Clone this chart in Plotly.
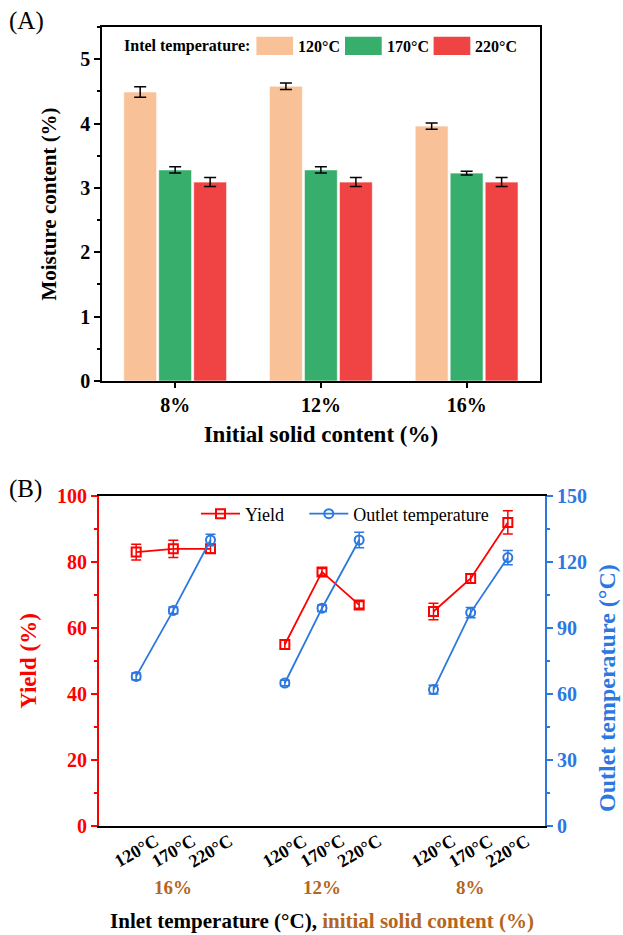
import plotly.graph_objects as go

W, H = 623, 935
FONT = "Liberation Serif, Times New Roman, serif"

# ---------------- Panel A data ----------------
solid_content = ["8%", "12%", "16%"]
inlet_temps = ["120°C", "170°C", "220°C"]
moisture_120 = [4.49, 4.58, 3.96]
moisture_120_err = [0.08, 0.05, 0.05]
moisture_170 = [3.28, 3.28, 3.23]
moisture_170_err = [0.05, 0.05, 0.03]
moisture_220 = [3.09, 3.09, 3.09]
moisture_220_err = [0.07, 0.07, 0.07]
bar_colors = ["#F8C197", "#38AE6D", "#F04343"]

# ---------------- Panel B data ----------------
group_solid = ["16%", "12%", "8%"]
yield_vals = [83.0, 84.0, 84.0, 55.0, 77.0, 67.0, 65.0, 75.0, 92.0]
yield_err = [2.4, 2.6, 1.3, 1.3, 1.0, 1.0, 2.5, 1.4, 3.5]
outlet_vals = [68, 98, 130, 65, 99, 130, 62, 97, 122]
outlet_err = [1.5, 1.5, 2.6, 1.2, 1.5, 3.5, 2.0, 2.3, 3.2]

RED = "#FF0000"
BLUE = "#2B78E0"
BROWN = "#B5651D"

fig = go.Figure()

moist = [moisture_120, moisture_170, moisture_220]
moist_err = [moisture_120_err, moisture_170_err, moisture_220_err]
for i, t in enumerate(inlet_temps):
    fig.add_trace(go.Bar(
        x=solid_content, y=moist[i], name=t,
        marker=dict(color=bar_colors[i], line=dict(color="rgba(255,255,255,0.6)", width=1)),
        error_y=dict(type="data", array=moist_err[i], color="black", thickness=1.5, width=6),
        xaxis="x", yaxis="y", showlegend=False,
    ))

# positions for panel B: groups separated by one empty slot
n_t = len(inlet_temps)
for g, sc in enumerate(group_solid):
    pos = [g * (n_t + 1) + t for t in range(n_t)]
    sl = slice(g * n_t, (g + 1) * n_t)
    fig.add_trace(go.Scatter(
        x=pos, y=yield_vals[sl], mode="lines+markers", name="Yield",
        line=dict(color=RED, width=1.8),
        marker=dict(symbol="square-open", size=9, color=RED, line=dict(width=2, color=RED)),
        error_y=dict(type="data", array=yield_err[sl], color=RED, thickness=1.5, width=5),
        xaxis="x2", yaxis="y2", legendgroup="yield", showlegend=(g == 0), legend="legend",
    ))
for g, sc in enumerate(group_solid):
    pos = [g * (n_t + 1) + t for t in range(n_t)]
    sl = slice(g * n_t, (g + 1) * n_t)
    fig.add_trace(go.Scatter(
        x=pos, y=outlet_vals[sl], mode="lines+markers", name="Outlet temperature",
        line=dict(color=BLUE, width=1.8),
        marker=dict(symbol="circle-open", size=9, color=BLUE, line=dict(width=2, color=BLUE)),
        error_y=dict(type="data", array=outlet_err[sl], color=BLUE, thickness=1.5, width=5),
        xaxis="x2", yaxis="y3", legendgroup="outlet", showlegend=(g == 0), legend="legend2",
    ))

annotations = []
shapes = []

# Panel A custom legend
leg_y = 1 - 46 / H
annotations.append(dict(text="<b>Intel temperature:</b>", xref="paper", yref="paper",
                        x=121.5 / W, y=leg_y, xanchor="left", yanchor="middle",
                        showarrow=False, font=dict(size=16, family=FONT, color="black")))
for i, t in enumerate(inlet_temps):
    x0 = 256.4 + 88.6 * i
    shapes.append(dict(type="rect", xref="paper", yref="paper",
                       x0=x0 / W, x1=(x0 + 36.7) / W, y0=1 - 55 / H, y1=1 - 36.7 / H,
                       fillcolor=bar_colors[i], line=dict(width=0)))
    annotations.append(dict(text="<b>%s</b>" % t, xref="paper", yref="paper",
                            x=(x0 + 39.5) / W, y=leg_y, xanchor="left", yanchor="middle",
                            showarrow=False, font=dict(size=16, family=FONT, color="black")))

# Panel B rotated tick labels and group labels
for g, sc in enumerate(group_solid):
    for t, tl in enumerate(inlet_temps):
        annotations.append(dict(text="<b>%s</b>" % tl, xref="x2", yref="paper",
                                x=g * (n_t + 1) + t, y=1 - 851 / H, textangle=-30,
                                xanchor="center", yanchor="middle",
                                showarrow=False, font=dict(size=18, family=FONT, color="black")))
    annotations.append(dict(text="<b>%s</b>" % sc, xref="x2", yref="paper",
                            x=g * (n_t + 1) + (n_t - 1) / 2, y=1 - 887 / H,
                            xanchor="center", yanchor="middle",
                            showarrow=False, font=dict(size=19, family=FONT, color=BROWN)))

# right axis title of panel B (placed lower than axis centre, as in the original)
annotations.append(dict(text="<b>Outlet temperature (°C)</b>", xref="paper", yref="paper",
                        x=607 / W, y=1 - 688 / H, textangle=-90,
                        xanchor="center", yanchor="middle", showarrow=False,
                        font=dict(size=24, family=FONT, color=BLUE)))

# panel labels
annotations.append(dict(text="(A)", xref="paper", yref="paper", x=7 / W, y=1 - 21 / H,
                        xanchor="left", yanchor="middle", showarrow=False,
                        font=dict(size=25, family=FONT, color="black")))
annotations.append(dict(text="(B)", xref="paper", yref="paper", x=7 / W, y=1 - 489 / H,
                        xanchor="left", yanchor="middle", showarrow=False,
                        font=dict(size=25, family=FONT, color="black")))

fig.update_layout(
    width=W, height=H, margin=dict(l=0, r=0, t=0, b=0),
    paper_bgcolor="white", plot_bgcolor="white",
    barmode="group", bargap=0.28, bargroupgap=0.06,
    font=dict(family=FONT, color="black"),
    xaxis=dict(domain=[102.3 / W, 539.5 / W], anchor="y", type="category", range=[-0.5, 2.5],
               showline=True, linecolor="black", linewidth=2, mirror=True,
               ticks="outside", ticklen=5, tickwidth=2, tickcolor="black",
               tickfont=dict(size=20, weight="bold"),
               title=dict(text="Initial solid content (%)", font=dict(size=23, weight="bold"), standoff=11),
               showgrid=False, zeroline=False, automargin=False),
    yaxis=dict(domain=[1 - 381 / H, 1 - 27 / H], anchor="x", range=[0, 5.5], dtick=1,
               showline=True, linecolor="black", linewidth=2, mirror=True,
               ticks="outside", ticklen=6, tickwidth=2, tickcolor="black",
               minor=dict(dtick=0.5, ticks="outside", ticklen=3, tickwidth=2, tickcolor="black"),
               tickfont=dict(size=20, weight="bold"),
               title=dict(text="Moisture content (%)", font=dict(size=21, weight="bold"), standoff=18),
               showgrid=False, zeroline=False, automargin=False),
    xaxis2=dict(domain=[99 / W, 545 / W], anchor="y2", range=[-1, 11],
                showline=True, linecolor="black", linewidth=2, mirror=True,
                ticks="", showticklabels=False, showgrid=False, zeroline=False,
                title=dict(text="Inlet temperature (°C), <span style='color:%s'>initial solid content (%%)</span>" % BROWN,
                           font=dict(size=21, weight="bold", color="black"), standoff=86),
                automargin=False),
    yaxis2=dict(domain=[1 - 826 / H, 1 - 496 / H], anchor="x2", range=[0, 100], dtick=20,
                showline=True, linecolor=RED, linewidth=2,
                ticks="outside", ticklen=6, tickwidth=2, tickcolor=RED,
                minor=dict(dtick=10, ticks="outside", ticklen=3, tickwidth=2, tickcolor=RED),
                tickfont=dict(size=20, weight="bold", color=RED),
                title=dict(text="Yield (%)", font=dict(size=23, weight="bold", color=RED), standoff=14),
                showgrid=False, zeroline=False, automargin=False),
    yaxis3=dict(overlaying="y2", anchor="x2", side="right", range=[0, 150], dtick=30,
                showline=True, linecolor=BLUE, linewidth=2,
                ticks="outside", ticklen=6, tickwidth=2, tickcolor=BLUE,
                minor=dict(dtick=15, ticks="outside", ticklen=3, tickwidth=2, tickcolor=BLUE),
                tickfont=dict(size=20, weight="bold", color=BLUE),
                showgrid=False, zeroline=False, automargin=False),
    legend=dict(orientation="h", x=196 / W, xanchor="left", y=1 - 514 / H, yanchor="middle",
                itemwidth=39,
                font=dict(size=18, family=FONT, color="black"), bgcolor="rgba(0,0,0,0)"),
    legend2=dict(orientation="h", x=304.3 / W, xanchor="left", y=1 - 514 / H, yanchor="middle",
                 itemwidth=39,
                 font=dict(size=18, family=FONT, color="black"), bgcolor="rgba(0,0,0,0)"),
    annotations=annotations, shapes=shapes,
)

fig.write_html("out.html")
